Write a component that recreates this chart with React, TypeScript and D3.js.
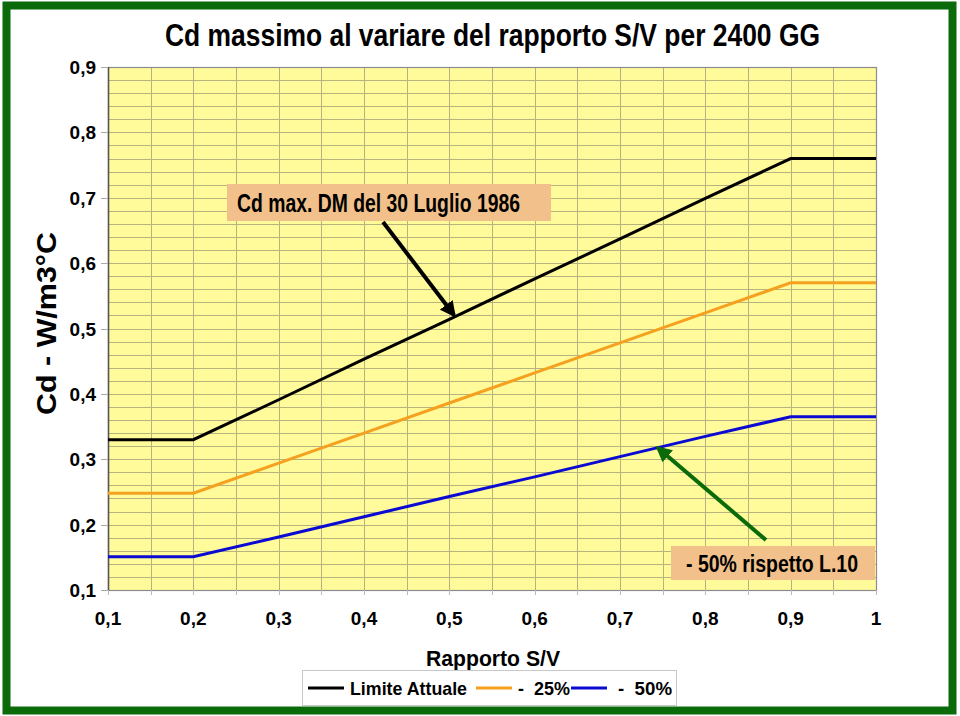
import React, { useEffect, useRef } from 'react';
import * as d3 from 'd3';

// Rapporto S/V (x) and Cd values for the three curves
const svRatio = [0.1, 0.2, 0.3, 0.4, 0.5, 0.6, 0.7, 0.8, 0.9, 1.0];
const limiteAttuale = [0.33, 0.33, 0.391, 0.453, 0.514, 0.576, 0.637, 0.699, 0.76, 0.76];
const meno25 = [0.248, 0.248, 0.294, 0.34, 0.386, 0.432, 0.478, 0.524, 0.57, 0.57];
const meno50 = [0.151, 0.151, 0.181, 0.212, 0.243, 0.273, 0.304, 0.335, 0.365, 0.365];

const xTickLabels = ['0,1', '0,2', '0,3', '0,4', '0,5', '0,6', '0,7', '0,8', '0,9', '1'];
const yTickLabels = ['0,1', '0,2', '0,3', '0,4', '0,5', '0,6', '0,7', '0,8', '0,9'];

const seriesNames = ['Limite Attuale', '-  25%', '-  50%'];
const seriesColors = ['#000000', '#f5a01e', '#0a0ad2'];

const FONT = "'Liberation Sans', Arial, sans-serif";
const NARROW = "'Liberation Sans Narrow', 'Arial Narrow', 'Liberation Sans', Arial, sans-serif";

export default function App() {
  const svgRef = useRef<SVGSVGElement>(null);

  useEffect(() => {
    if (!svgRef.current) return;
    const svg = d3.select(svgRef.current);
    svg.selectAll('*').remove();

    const width = 960;
    const height = 716;
    const plot = { left: 108, right: 876, top: 67, bottom: 590 };

    const x = d3.scaleLinear().domain([0.1, 1]).range([plot.left, plot.right]);
    const y = d3.scaleLinear().domain([0.1, 0.9]).range([plot.bottom, plot.top]);

    svg.append('rect').attr('width', width).attr('height', height).attr('fill', '#fff');

    // green frame
    svg.append('rect')
      .attr('x', 6.5).attr('y', 5.5)
      .attr('width', 946).attr('height', 705)
      .attr('fill', 'none')
      .attr('stroke', '#0b6b0b')
      .attr('stroke-width', 8);

    // plot background
    svg.append('rect')
      .attr('x', plot.left).attr('y', plot.top)
      .attr('width', plot.right - plot.left).attr('height', plot.bottom - plot.top)
      .attr('fill', '#fffa9a');

    const grid = svg.append('g').attr('stroke', '#b6b37e').attr('stroke-width', 1);
    // horizontal grid every 0.02
    grid.selectAll('.hg')
      .data(d3.range(1, 40).map(i => 0.1 + i * 0.02))
      .enter().append('line')
      .attr('x1', plot.left).attr('x2', plot.right)
      .attr('y1', d => Math.round(y(d)) + 0.5).attr('y2', d => Math.round(y(d)) + 0.5);
    // vertical grid every 0.05
    grid.selectAll('.vg')
      .data(d3.range(1, 18).map(i => 0.1 + i * 0.05))
      .enter().append('line')
      .attr('y1', plot.top).attr('y2', plot.bottom)
      .attr('x1', d => Math.round(x(d)) + 0.5).attr('x2', d => Math.round(x(d)) + 0.5);

    // plot border
    svg.append('rect')
      .attr('x', plot.left + 0.5).attr('y', plot.top + 0.5)
      .attr('width', plot.right - plot.left).attr('height', plot.bottom - plot.top)
      .attr('fill', 'none').attr('stroke', '#8c8c8c').attr('stroke-width', 1.2);
    svg.append('line')
      .attr('x1', plot.left + 0.5).attr('x2', plot.left + 0.5)
      .attr('y1', plot.top).attr('y2', plot.bottom + 1)
      .attr('stroke', '#555').attr('stroke-width', 1.5);

    // y ticks + labels
    const yVals = d3.range(0, 9).map(i => 0.1 + i * 0.1);
    svg.selectAll('.yt')
      .data(yVals).enter().append('line')
      .attr('x1', plot.left - 7).attr('x2', plot.left)
      .attr('y1', d => Math.round(y(d)) + 0.5).attr('y2', d => Math.round(y(d)) + 0.5)
      .attr('stroke', '#aaa');
    svg.selectAll('.yl')
      .data(yVals).enter().append('text')
      .attr('x', 96)
      .attr('y', d => y(d) + 7)
      .attr('text-anchor', 'end')
      .style('font-family', FONT).style('font-size', '19px').style('font-weight', 'bold')
      .text((d, i) => yTickLabels[i]);

    // x ticks + labels
    svg.selectAll('.xt')
      .data(d3.range(0, 19).map(i => 0.1 + i * 0.05)).enter().append('line')
      .attr('y1', plot.bottom).attr('y2', plot.bottom + 5)
      .attr('x1', d => Math.round(x(d)) + 0.5).attr('x2', d => Math.round(x(d)) + 0.5)
      .attr('stroke', '#bbb');
    svg.selectAll('.xl')
      .data(svRatio).enter().append('text')
      .attr('x', d => x(d))
      .attr('y', 625)
      .attr('text-anchor', 'middle')
      .style('font-family', FONT).style('font-size', '19px').style('font-weight', 'bold')
      .text((d, i) => xTickLabels[i]);

    // series lines
    const line = d3.line<[number, number]>().x(d => x(d[0])).y(d => y(d[1]));
    [limiteAttuale, meno25, meno50].forEach((vals, k) => {
      svg.append('path')
        .datum(svRatio.map((s, i) => [s, vals[i]] as [number, number]))
        .attr('fill', 'none')
        .attr('stroke', seriesColors[k])
        .attr('stroke-width', 3)
        .attr('d', line);
    });

    // title
    svg.append('text')
      .attr('x', 165).attr('y', 46)
      .attr('textLength', 655).attr('lengthAdjust', 'spacingAndGlyphs')
      .style('font-family', NARROW).style('font-size', '32px').style('font-weight', 'bold')
      .text('Cd massimo al variare del rapporto S/V per 2400 GG');

    // y axis title
    svg.append('text')
      .attr('transform', 'translate(56,415) rotate(-90)')
      .attr('textLength', 183).attr('lengthAdjust', 'spacingAndGlyphs')
      .style('font-family', FONT).style('font-size', '28px').style('font-weight', 'bold')
      .text('Cd - W/m3°C');

    // x axis title
    svg.append('text')
      .attr('x', 493).attr('y', 666)
      .attr('text-anchor', 'middle')
      .attr('textLength', 134).attr('lengthAdjust', 'spacingAndGlyphs')
      .style('font-family', FONT).style('font-size', '22px').style('font-weight', 'bold')
      .text('Rapporto S/V');

    // arrow markers
    const defs = svg.append('defs');
    [['arrBlack', '#000'], ['arrGreen', '#0b6b0b']].forEach(([id, c]) => {
      defs.append('marker')
        .attr('id', id)
        .attr('viewBox', '0 0 10 10')
        .attr('refX', 8).attr('refY', 5)
        .attr('markerWidth', 4).attr('markerHeight', 4)
        .attr('orient', 'auto')
        .append('path').attr('d', 'M0,0 L10,5 L0,10 z').attr('fill', c);
    });

    // annotation 1
    svg.append('line')
      .attr('x1', 383).attr('y1', 222).attr('x2', 454).attr('y2', 315)
      .attr('stroke', '#000').attr('stroke-width', 4)
      .attr('marker-end', 'url(#arrBlack)');
    svg.append('rect')
      .attr('x', 227).attr('y', 184).attr('width', 324).attr('height', 37)
      .attr('fill', '#f2c08a');
    svg.append('text')
      .attr('x', 237).attr('y', 212)
      .attr('textLength', 283).attr('lengthAdjust', 'spacingAndGlyphs')
      .style('font-family', NARROW).style('font-size', '25px').style('font-weight', 'bold')
      .text('Cd max. DM del 30 Luglio 1986');

    // annotation 2
    svg.append('line')
      .attr('x1', 766).attr('y1', 540).attr('x2', 658).attr('y2', 448)
      .attr('stroke', '#0b6b0b').attr('stroke-width', 4)
      .attr('marker-end', 'url(#arrGreen)');
    svg.append('rect')
      .attr('x', 671).attr('y', 546).attr('width', 204).attr('height', 34)
      .attr('fill', '#f2c08a');
    svg.append('text')
      .attr('x', 686).attr('y', 572)
      .attr('textLength', 172).attr('lengthAdjust', 'spacingAndGlyphs')
      .style('font-family', NARROW).style('font-size', '24px').style('font-weight', 'bold')
      .text('- 50% rispetto L.10');

    // legend
    const lg = svg.append('g');
    lg.append('rect')
      .attr('x', 302.5).attr('y', 670.5).attr('width', 374).attr('height', 35)
      .attr('fill', '#fff').attr('stroke', '#c8c8c8');
    const legendPos = [
      { lx: 308, tx: 350, w: 117 },
      { lx: 476, tx: 518, w: 52 },
      { lx: 571, tx: 618, w: 54 },
    ];
    seriesNames.forEach((name, k) => {
      lg.append('line')
        .attr('x1', legendPos[k].lx).attr('x2', legendPos[k].lx + 36)
        .attr('y1', 688).attr('y2', 688)
        .attr('stroke', seriesColors[k]).attr('stroke-width', 3);
      lg.append('text')
        .attr('x', legendPos[k].tx).attr('y', 695)
        .attr('textLength', legendPos[k].w).attr('lengthAdjust', 'spacingAndGlyphs')
        .style('font-family', FONT).style('font-size', '19px').style('font-weight', 'bold')
        .style('white-space', 'pre')
        .text(name);
    });
  }, []);

  return (
    <svg
      ref={svgRef}
      width={960}
      height={716}
      style={{ position: 'absolute', left: 0, top: 0, display: 'block' }}
    ></svg>
  );
}
